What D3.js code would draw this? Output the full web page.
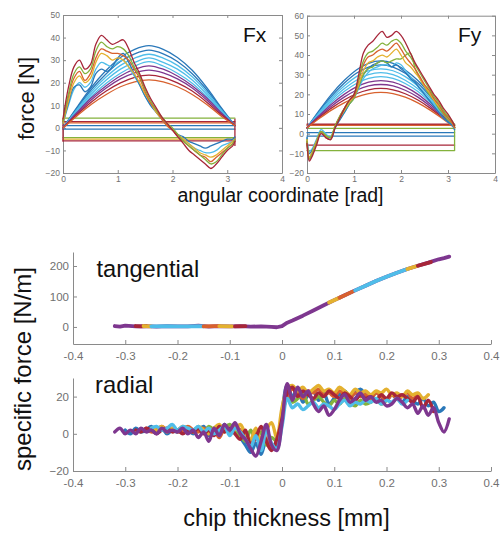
<!DOCTYPE html>
<html>
<head>
<meta charset="utf-8">
<script src="https://cdn.jsdelivr.net/npm/d3@7"></script>
<style>
  body { margin: 0; background: #fff; }
  text { font-family: "Liberation Sans", Arial, sans-serif; }
  .ax path, .ax line { stroke: #8a8a8a; stroke-width: 1; }
  .ax text { fill: #707070; }
  .small text { font-size: 8.5px; }
  .big text { font-size: 11.5px; }
</style>
</head>
<body>
<svg id="fig" width="500" height="533"></svg>
<script>
// ---- data ----

// top panels: ideal (sine-like) force curves, sampled along the angle
const arcX = [0, 0.26, 0.52, 0.79, 1.05, 1.31, 1.57, 1.83, 2.09, 2.36, 2.62, 2.88, 3.14];
const fxArcs = [
  [0, 9.3, 18, 25.5, 31.2, 34.8, 36.4, 34.8, 31.2, 25.5, 18, 9.3, 1],
  [0, 8.8, 17, 24, 29.4, 32.8, 34.4, 32.8, 29.4, 24, 17, 8.8, 1],
  [0, 8.3, 16, 22.6, 27.7, 30.9, 32.6, 30.9, 27.7, 22.6, 16, 8.3, 1],
  [0, 7.8, 15, 21.2, 26, 29, 31, 29, 26, 21.2, 15, 7.8, 1],
  [0, 7.3, 14, 19.8, 24.2, 27.4, 29.3, 27.4, 24.2, 19.8, 14, 7.3, 1],
  [0, 6.9, 13.3, 18.7, 23, 26, 27.5, 26, 23, 18.7, 13.3, 6.9, 1],
  [0, 6.5, 12.5, 17.7, 21.7, 24.4, 25.6, 24.4, 21.7, 17.7, 12.5, 6.5, 1],
  [0, 6, 11.5, 16.3, 19.9, 22.4, 23.4, 22.4, 19.9, 16.3, 11.5, 6, 1],
  [0, 5.4, 10.5, 14.8, 18.2, 20.4, 21.3, 20.4, 18.2, 14.8, 10.5, 5.4, 1]
];
const fyArcs = [
  [3, 11.8, 20, 27, 32.4, 35.8, 37, 35.8, 32.4, 27, 20, 11.8, 3],
  [3, 11.3, 19, 25.6, 30.7, 33.9, 35, 33.9, 30.7, 25.6, 19, 11.3, 3],
  [3, 10.8, 18, 24.2, 29, 32, 33, 32, 29, 24.2, 18, 10.8, 3],
  [3, 10.3, 17, 22.8, 27.2, 30, 31, 30, 27.2, 22.8, 17, 10.3, 3],
  [3, 9.7, 16, 21.4, 25.5, 28.1, 29, 28.1, 25.5, 21.4, 16, 9.7, 3],
  [3, 9.2, 15, 20, 23.8, 26.2, 27, 26.2, 23.8, 20, 15, 9.2, 3],
  [3, 8.7, 14, 18.6, 22.1, 24.3, 25, 24.3, 22.1, 18.6, 14, 8.7, 3],
  [3, 8.2, 13, 17.1, 20.3, 22.3, 23, 22.3, 20.3, 17.1, 13, 8.2, 3],
  [3, 7.7, 12, 15.7, 18.6, 20.4, 21, 20.4, 18.6, 15.7, 12, 7.7, 3]
];

// top panels: measured force curves
const fxWaveX = [0, 0.1, 0.2, 0.3, 0.4, 0.5, 0.6, 0.7, 0.8, 0.9, 1.0, 1.1, 1.2, 1.3, 1.4, 1.5,
  1.6, 1.7, 1.8, 1.9, 2.0, 2.1, 2.2, 2.3, 2.4, 2.5, 2.6, 2.7, 2.8, 2.9, 3.0, 3.1, 3.14];
const fxWaves = [
  [2, 10, 17, 20, 18, 20, 26, 29, 28, 27, 29, 30, 27, 23, 19, 14, 10, 7, 4, 1, -1, -3, -5, -7, -9, -10, -11, -11, -10, -8, -7, -6, -5],
  [2, 11, 18, 19, 16, 18, 24, 26, 25, 27, 31, 33, 29, 24, 19, 14, 10, 7, 4, 1, -1, -3, -4, -6, -7, -8, -9, -8, -7, -6, -5, -5, -4],
  [2, 12, 20, 23, 20, 22, 29, 33, 32, 30, 31, 30, 27, 24, 20, 15, 11, 7, 4, 1, -1, -3, -5, -7, -9, -11, -12, -13, -12, -10, -8, -6, -5],
  [3, 14, 22, 25, 21, 24, 31, 35, 34, 33, 33, 32, 30, 26, 22, 16, 11, 8, 4, 1, -1, -4, -6, -8, -10, -12, -13, -15, -13, -11, -9, -7, -5],
  [3, 15, 24, 27, 24, 26, 34, 38, 36, 35, 36, 35, 32, 27, 23, 17, 12, 8, 5, 2, 0, -3, -6, -8, -10, -12, -14, -16, -15, -12, -9, -7, -5],
  [4, 18, 27, 30, 26, 28, 37, 41, 39, 37, 38, 39, 35, 29, 24, 18, 13, 9, 5, 2, -1, -4, -7, -10, -12, -14, -16, -18, -16, -13, -10, -8, -6]
];
const fyWaveX = [0, 0.05, 0.1, 0.2, 0.3, 0.4, 0.5, 0.6, 0.7, 0.8, 0.9, 1.0, 1.1, 1.2, 1.3, 1.4, 1.5,
  1.6, 1.7, 1.8, 1.9, 2.0, 2.1, 2.2, 2.3, 2.4, 2.5, 2.6, 2.7, 2.8, 2.9, 3.0, 3.1, 3.14];
const fyWaves = [
  [-2, -9, -8, -3, 2, 0, -2, 4, 8, 11, 15, 18, 23, 28, 31, 33, 34, 35, 35, 34, 36, 35, 32, 29, 26, 23, 20, 17, 14, 11, 8, 6, 4, 2],
  [-2, -10, -9, -4, 1, -1, -3, 3, 7, 11, 15, 19, 24, 30, 33, 35, 36, 37, 36, 34, 35, 33, 31, 28, 26, 23, 20, 17, 14, 11, 8, 6, 4, 2],
  [-3, -12, -10, -4, 1, -1, -2, 4, 8, 12, 15, 18, 24, 30, 33, 34, 36, 37, 36, 37, 38, 38, 40, 41, 33, 28, 24, 20, 17, 13, 10, 7, 5, 3],
  [-3, -12, -10, -4, 1, -1, -2, 4, 8, 12, 16, 19, 25, 32, 36, 37, 39, 40, 39, 41, 43, 40, 36, 34, 31, 28, 24, 21, 17, 14, 11, 8, 5, 3],
  [-4, -13, -11, -5, 1, -2, -3, 4, 9, 13, 17, 19, 27, 35, 39, 40, 42, 43, 42, 44, 46, 43, 39, 36, 33, 29, 25, 22, 18, 15, 11, 8, 5, 3],
  [-4, -13, -11, -5, 1, -1, -2, 4, 9, 13, 17, 20, 28, 37, 41, 42, 44, 46, 45, 47, 48, 46, 42, 39, 35, 31, 27, 23, 19, 16, 12, 9, 6, 4],
  [-5, -14, -12, -6, 0, -2, -3, 3, 8, 13, 17, 20, 30, 41, 45, 47, 50, 52, 49, 50, 52, 50, 46, 41, 36, 32, 28, 24, 20, 17, 13, 10, 6, 4]
];

// top panels: flat return lines (level in N) and the vertical closing edges
const flatX = [0, 3.14];
const fxFlat = [4.3, 2.8, 2.2, 1.0, -0.6, -4.3, -5.0, -5.8];
const fyFlat = [4.8, 4.2, 2.7, 0.5, -1.2, -5.8, -8.6];
const fxEdgeX = [0, 3.14], fxEdgeLo = [-6, -8], fxEdgeHi = [4, 4];
const fyEdgeX = [3.14], fyEdgeLo = [-8.6], fyEdgeHi = [5];

const fxTicksX = [0, 1, 2, 3, 4], fxTicksY = [-20, -10, 0, 10, 20, 30, 40, 50];
const fyTicksX = [0, 1, 2, 3, 4], fyTicksY = [-20, -10, 0, 10, 20, 30, 40, 50, 60];

// bottom panels: specific force vs chip thickness
const chipTicks = [-0.4, -0.3, -0.2, -0.1, 0, 0.1, 0.2, 0.3, 0.4];
const tanTicks = [0, 100, 200];
const radTicks = [-20, 0, 20];

const tanX = [-0.32, -0.31, -0.30, -0.28, -0.26, -0.24, -0.22, -0.20, -0.18, -0.16, -0.14, -0.12, -0.10,
  -0.08, -0.06, -0.04, -0.02, -0.01, 0, 0.01, 0.02, 0.04, 0.06, 0.08, 0.10, 0.12, 0.14, 0.16, 0.18,
  0.20, 0.22, 0.24, 0.26, 0.28, 0.30, 0.31, 0.32];
const tanMain = [3, 1, 4, 2, 3, 1, 3, 2, 2, 4, 1, 3, 2, 3, 1, 2, 0, -1, 3, 14, 21, 37, 54, 71, 88, 104,
  120, 135, 151, 165, 178, 190, 201, 211, 222, 226, 231];
// short coloured stretches lying on top of the main (purple) trace
const tanSegX = [
  [-0.28, -0.27, -0.26], [-0.265, -0.25], [-0.25, -0.22, -0.20, -0.18, -0.16, -0.15],
  [-0.15, -0.13, -0.12], [-0.12, -0.10, -0.095], [-0.09, -0.07],
  [0.09, 0.11], [0.11, 0.135], [0.14, 0.16, 0.18, 0.20, 0.22, 0.24], [0.24, 0.26], [0.26, 0.285]
];
const tanSegY = [
  [3, 2, 3], [3, 2], [2, 3, 2, 2, 3, 2],
  [2, 3, 3], [3, 2, 2], [2, 3],
  [80, 96], [96, 116], [120, 135, 151, 165, 178, 190], [190, 201], [201, 213]
];

// radial: one value per 0.01 mm from -0.32 to 0.32 (null = no sample)
const radX = [-0.32, -0.31, -0.30, -0.29, -0.28, -0.27, -0.26, -0.25, -0.24, -0.23, -0.22, -0.21, -0.20,
  -0.19, -0.18, -0.17, -0.16, -0.15, -0.14, -0.13, -0.12, -0.11, -0.10, -0.09, -0.08, -0.07, -0.06,
  -0.05, -0.04, -0.03, -0.02, -0.01, 0, 0.01, 0.02, 0.03, 0.04, 0.05, 0.06, 0.07, 0.08, 0.09, 0.10,
  0.11, 0.12, 0.13, 0.14, 0.15, 0.16, 0.17, 0.18, 0.19, 0.20, 0.21, 0.22, 0.23, 0.24, 0.25, 0.26,
  0.27, 0.28, 0.29, 0.30, 0.31, 0.32];
const radBlue = [null, null, 2, 0, 3, 1, 2, 4, 1, 3, 0, 2, 1, 3, 2, 0,
  2, 4, -1, 3, 1, 5, 0, 2, -2, -6, -10, -5, -11, -3, -8, -6, 12,
  26, 20, 24, 17, 21, 23, 18, 22, 16, 19, 21, 23, 20, 22, 24, 21,
  19, 22, 20, 18, 21, 19, 17, 20, 18, 16, 19, 15, 17, 12, 14, null];
const radGreen = [null, null, null, null, null, null, null, null, null, null, null, null, 2, 3, 1, 2,
  3, 1, 4, 2, 0, 3, 5, 1, -1, -4, 2, -3, 1, -6, -2, -4, 9,
  21, 17, 19, 22, 16, 18, 20, 17, 15, 18, 16, 19, 17, 15, 18, 16,
  17, 19, 16, 18, null, null, null, null, null, null, null, null, null, null, null, null];
const radOrange = [null, null, null, null, null, null, 3, 1, 2, 4, 2, 3, 1, 2, 4, 2,
  1, 3, 0, 2, -2, 3, 1, 4, 2, -2, -5, 1, -3, 3, -7, -4, 10,
  20, 24, 22, 19, 23, 22, 24, 21, 22, 20, 23, 21, 19, 22, 20, 21,
  19, 22, 20, 18, 21, 19, 20, 22, 19, 21, null, null, null, null, null, null];
const radYellow = [null, null, null, null, null, null, null, 3, 2, 4, 1, 3, 2, 4, 3, 1,
  4, 2, 0, 3, 5, 1, 3, 2, 5, 0, -3, 3, -5, 2, 6, -2, 14,
  24, 26, 23, 25, 22, 24, 26, 23, 24, 22, 25, 23, 21, 24, 22, 23,
  21, 23, 22, 24, 21, 22, 20, 23, 21, 22, 19, 21, null, null, null, null];
const radRed = [null, null, null, null, 2, 1, 3, 2, 0, 2, 3, 1, 2, 0, 2, 1,
  3, 0, 2, -1, 4, 1, 3, 0, -3, 2, -6, -2, 4, -4, -9, -3, 8,
  22, 25, 20, 23, 21, 19, 22, 20, 23, 21, 19, 22, 20, 18, 21, 19,
  20, 18, 21, 19, 22, 20, 21, 19, 17, 20, 14, 18, 12, null, null, null];
const radLBlue = [null, null, null, null, null, null, null, 3, 4, 2, 3, 5, 2, 4, 3, 2,
  4, 1, 3, 0, 2, 4, -1, 3, 1, -3, -7, -1, -9, 2, -5, -8, 4,
  19, 14, 16, 13, 15, 17, 14, 16, 15, 13, 16, 18, 15, 17, 16, 18,
  17, 19, 16, 18, 17, 19, 16, 18, null, null, null, null, null, null, null, null];
const radPurple = [1, 3, 0, 2, 0, 3, 1, 2, 0, 3, 1, 2, 1, 3, 0, 2,
  -2, 1, -4, 3, -1, 5, 2, 6, 0, -3, -8, -12, -4, 5, -6, -9, 6,
  27, 18, 25, 20, 23, 16, 12, 15, 10, 13, 18, 21, 17, 19, 22, 18,
  20, 17, 18, 15, 16, 19, 17, 14, 16, 11, 15, 10, 14, 6, 1, 8];

// ---- colours ----
const C = {
  blue: "#2a78b9", orange: "#d8612e", yellow: "#e4b12f", purple: "#7e378f",
  green: "#84b23c", lblue: "#4fbde9", red: "#a72639"
};
const arcColors = [C.blue, C.blue, C.lblue, C.lblue, C.lblue, C.purple, C.purple, C.red, C.orange];
const fxWaveColors = [C.lblue, C.blue, C.yellow, C.orange, C.green, C.red];
const fyWaveColors = [C.lblue, C.blue, C.green, C.yellow, C.orange, C.green, C.red];
const fxFlatColors = [C.green, C.red, C.orange, C.blue, C.blue, C.green, C.yellow, C.red];
const fyFlatColors = [C.red, C.orange, C.green, C.blue, C.blue, C.red, C.green];
const tanSegColors = [C.red, C.yellow, C.lblue, C.orange, C.yellow, C.red, C.yellow, C.orange, C.lblue, C.yellow, C.red];
const radSeries = [radBlue, radGreen, radOrange, radYellow, radRed, radLBlue, radPurple];
const radColors = [C.blue, C.green, C.orange, C.yellow, C.red, C.lblue, C.purple];

// ---- scales ----
const fxX = d3.scaleLinear().domain([0, 4]).range([63, 282]);
const fxY = d3.scaleLinear().domain([-20, 50]).range([173, 15]);
const fyX = d3.scaleLinear().domain([0, 4]).range([307, 495]);
const fyY = d3.scaleLinear().domain([-20, 60]).range([173, 15.7]);
const chipX = d3.scaleLinear().domain([-0.4, 0.4]).range([73, 491]);
const tanY = d3.scaleLinear().domain([-56, 246]).range([344, 252]);
const radY = d3.scaleLinear().domain([-20, 30]).range([471, 378]);

const svg = d3.select("#fig");

function boxAxes(sx, sy, xt, yt) {
  const g = svg.append("g").attr("class", "ax small");
  const [x0, x1] = sx.range(), [y0, y1] = sy.range();
  g.append("g").attr("transform", `translate(0,${y0})`)
    .call(d3.axisBottom(sx).tickValues(xt).tickSize(-3).tickSizeOuter(0).tickPadding(3)
      .tickFormat(d3.format("d")));
  g.append("g").attr("transform", `translate(0,${y1})`)
    .call(d3.axisTop(sx).tickValues(xt).tickSize(-3).tickSizeOuter(0).tickFormat(""));
  g.append("g").attr("transform", `translate(${x0},0)`)
    .call(d3.axisLeft(sy).tickValues(yt).tickSize(-3).tickSizeOuter(0).tickPadding(3)
      .tickFormat(d3.format("d")));
  g.append("g").attr("transform", `translate(${x1},0)`)
    .call(d3.axisRight(sy).tickValues(yt).tickSize(-3).tickSizeOuter(0).tickFormat(""));
}

function openAxes(sy, yt) {
  const g = svg.append("g").attr("class", "ax big");
  const y0 = sy.range()[0];
  g.append("g").attr("transform", `translate(0,${y0})`)
    .call(d3.axisBottom(chipX).tickValues(chipTicks).tickSize(-4).tickSizeOuter(0).tickPadding(8)
      .tickFormat(d => d === 0 ? "0" : d.toFixed(1)));
  g.append("g").attr("transform", `translate(${chipX.range()[0]},0)`)
    .call(d3.axisLeft(sy).tickValues(yt).tickSize(-4).tickSizeOuter(0).tickPadding(4));
}

function drawRows(sx, sy, xs, rows, colors, width, curve) {
  const line = d3.line().defined(d => d[1] != null)
    .x(d => sx(d[0])).y(d => sy(d[1])).curve(curve);
  const g = svg.append("g");
  rows.forEach((row, i) => {
    g.append("path")
      .attr("d", line(xs.map((x, j) => [x, row[j]])))
      .attr("fill", "none")
      .attr("stroke", colors[i])
      .attr("stroke-width", width)
      .attr("stroke-linejoin", "round")
      .attr("stroke-linecap", "round");
  });
}

function drawEdges(sx, sy, ex, lo, hi, color) {
  svg.append("g").selectAll("line").data(ex).join("line")
    .attr("x1", d => sx(d)).attr("x2", d => sx(d))
    .attr("y1", (d, i) => sy(lo[i])).attr("y2", (d, i) => sy(hi[i]))
    .attr("stroke", color).attr("stroke-width", 1.3);
}

// ---- top: Fx ----
boxAxes(fxX, fxY, fxTicksX, fxTicksY);
drawRows(fxX, fxY, flatX, fxFlat.map(v => [v, v]), fxFlatColors, 1.3, d3.curveLinear);
drawEdges(fxX, fxY, fxEdgeX, fxEdgeLo, fxEdgeHi, C.red);
drawRows(fxX, fxY, arcX, fxArcs, arcColors, 1.3, d3.curveMonotoneX);
drawRows(fxX, fxY, fxWaveX, fxWaves, fxWaveColors, 1.3, d3.curveCatmullRom);

// ---- top: Fy ----
boxAxes(fyX, fyY, fyTicksX, fyTicksY);
drawRows(fyX, fyY, flatX, fyFlat.map(v => [v, v]), fyFlatColors, 1.3, d3.curveLinear);
drawEdges(fyX, fyY, fyEdgeX, fyEdgeLo, fyEdgeHi, C.green);
drawRows(fyX, fyY, arcX, fyArcs, arcColors, 1.3, d3.curveMonotoneX);
drawRows(fyX, fyY, fyWaveX, fyWaves, fyWaveColors, 1.3, d3.curveCatmullRom);

// ---- bottom: tangential ----
openAxes(tanY, tanTicks);
drawRows(chipX, tanY, tanX, [tanMain], [C.purple], 3.8, d3.curveLinear);
tanSegX.forEach((xs, i) => drawRows(chipX, tanY, xs, [tanSegY[i]], [tanSegColors[i]], 3.8, d3.curveLinear));

// ---- bottom: radial ----
openAxes(radY, radTicks);
drawRows(chipX, radY, radX, radSeries, radColors, 3.4, d3.curveCatmullRom);

// ---- labels ----
function label(txt, x, y, size, rot, anchor) {
  svg.append("text").text(txt)
    .attr("transform", `translate(${x},${y})` + (rot ? ` rotate(${rot})` : ""))
    .attr("text-anchor", anchor || "start")
    .attr("font-size", size).attr("fill", "#111");
}
label("Fx", 243, 42, 21);
label("Fy", 458, 42, 21);
label("force [N]", 34, 98.5, 22, -90, "middle");
label("angular coordinate [rad]", 280.5, 202, 19.5, 0, "middle");
label("tangential", 96.5, 277, 23.7);
label("radial", 95, 393, 23.8);
label("specific force [N/m]", 31, 369, 24, -90, "middle");
label("chip thickness [mm]", 286.5, 526, 23.5, 0, "middle");
</script>
</body>
</html>
